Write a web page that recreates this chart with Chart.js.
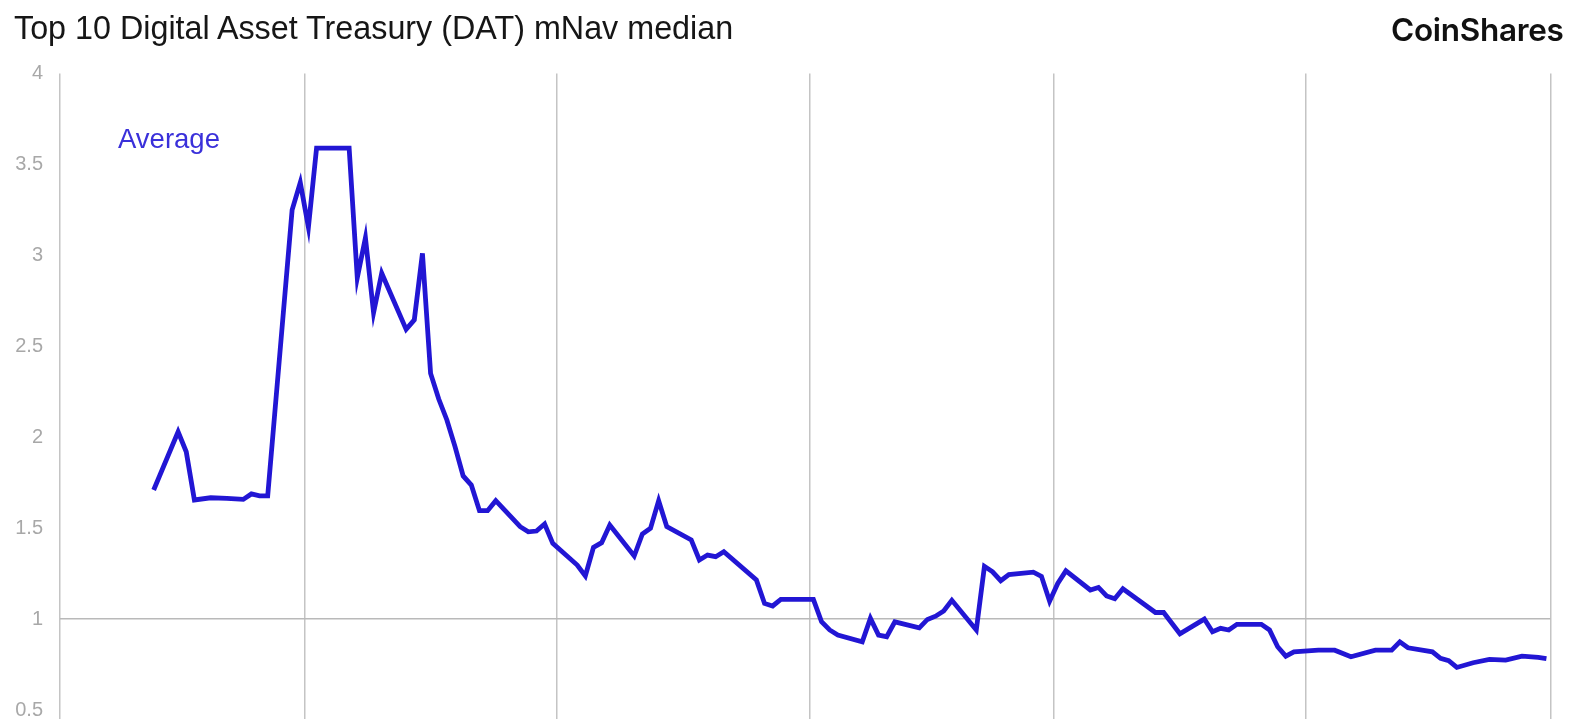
<!DOCTYPE html>
<html>
<head>
<meta charset="utf-8">
<script src="https://cdn.jsdelivr.net/npm/chart.js@4.4.1/dist/chart.umd.min.js"></script>
<style>
  html, body { margin: 0; padding: 0; background: #ffffff; }
  #wrap { position: relative; width: 1596px; height: 719px; overflow: hidden; background: #fff; }
  #chart { position: absolute; left: 0; top: 0; }
  #title { position: absolute; left: 14px; top: 10px; font-family: "Liberation Sans", Arial, sans-serif;
           font-size: 32.3px; color: #161616; white-space: nowrap; }
  #logo { position: absolute; left: 1391px; top: 10px; font-family: Inter, "Liberation Sans", Arial, sans-serif;
          font-size: 31.5px; font-weight: 600; color: #111; white-space: nowrap; letter-spacing: -0.3px; }
  #avg { position: absolute; left: 118px; top: 123px; font-family: "Liberation Sans", Arial, sans-serif;
         font-size: 27.5px; color: #3a30da; white-space: nowrap; }
</style>
</head>
<body>
<div id="wrap">
  <canvas id="chart" width="1596" height="719"></canvas>
  <div id="title">Top 10 Digital Asset Treasury (DAT) mNav median</div>
  <div id="logo">CoinShares</div>
  <div id="avg">Average</div>
</div>
<script>
// ---- Data ----
const seriesName = "Average";
const dates = [
  "2025-06-12","2025-06-15","2025-06-16","2025-06-17","2025-06-19","2025-06-21","2025-06-23","2025-06-24",
  "2025-06-25","2025-06-26","2025-06-29","2025-06-30","2025-07-01","2025-07-02","2025-07-06","2025-07-07",
  "2025-07-08","2025-07-09","2025-07-10","2025-07-13","2025-07-14","2025-07-15","2025-07-16","2025-07-17",
  "2025-07-18","2025-07-19","2025-07-20","2025-07-21","2025-07-22","2025-07-23","2025-07-24","2025-07-27",
  "2025-07-28","2025-07-29","2025-07-30","2025-07-31","2025-08-03","2025-08-04","2025-08-05","2025-08-06",
  "2025-08-07","2025-08-10","2025-08-11","2025-08-12","2025-08-13","2025-08-14","2025-08-17","2025-08-18",
  "2025-08-19","2025-08-20","2025-08-21","2025-08-25","2025-08-26","2025-08-27","2025-08-28","2025-09-01",
  "2025-09-02","2025-09-03","2025-09-04","2025-09-07","2025-09-08","2025-09-09","2025-09-10","2025-09-11",
  "2025-09-14","2025-09-15","2025-09-16","2025-09-17","2025-09-18","2025-09-21","2025-09-22","2025-09-23",
  "2025-09-24","2025-09-25","2025-09-28","2025-09-29","2025-09-30","2025-10-01","2025-10-02","2025-10-05",
  "2025-10-06","2025-10-07","2025-10-08","2025-10-09","2025-10-13","2025-10-14","2025-10-16","2025-10-19",
  "2025-10-20","2025-10-21","2025-10-22","2025-10-23","2025-10-26","2025-10-27","2025-10-28","2025-10-29",
  "2025-10-30","2025-11-02","2025-11-04","2025-11-06","2025-11-09","2025-11-11","2025-11-12","2025-11-13",
  "2025-11-16","2025-11-17","2025-11-18","2025-11-19","2025-11-21","2025-11-23","2025-11-25","2025-11-27",
  "2025-11-29","2025-11-30"
];
const mnavMedian = [
  1.71, 2.03, 1.92, 1.655, 1.667, 1.664, 1.658, 1.688,
  1.677, 1.677, 3.25, 3.40, 3.155, 3.59, 3.59, 2.877,
  3.097, 2.685, 2.902, 2.593, 2.645, 3.011, 2.351, 2.21,
  2.095, 1.948, 1.787, 1.737, 1.596, 1.596, 1.651, 1.508,
  1.480, 1.484, 1.523, 1.416, 1.297, 1.237, 1.394, 1.42,
  1.517, 1.347, 1.468, 1.499, 1.651, 1.508, 1.435, 1.325,
  1.352, 1.343, 1.370, 1.215, 1.086, 1.072, 1.108, 1.108,
  0.985, 0.94, 0.912, 0.875, 1.004, 0.912, 0.903, 0.985,
  0.952, 0.998, 1.016, 1.044, 1.103, 0.94, 1.29, 1.26,
  1.211, 1.245, 1.258, 1.235, 1.098, 1.196, 1.265, 1.16,
  1.174, 1.127, 1.112, 1.167, 1.036, 1.036, 0.919, 1.0,
  0.93, 0.949, 0.940, 0.971, 0.971, 0.940, 0.848, 0.796,
  0.82, 0.829, 0.829, 0.793, 0.829, 0.829, 0.875, 0.842,
  0.820, 0.784, 0.771, 0.734, 0.760, 0.778, 0.774, 0.796,
  0.789, 0.782
];
// Month boundaries used for the vertical grid lines
const monthStarts = ["2025-06-01","2025-07-01","2025-08-01","2025-09-01","2025-10-01","2025-11-01","2025-12-01"];
// Y-axis tick labels
const yTicks = [0.5, 1, 1.5, 2, 2.5, 3, 3.5, 4];
const refLine = 1;

// ---- Build chart ----
const DAY = 86400000;
const origin = Date.parse(monthStarts[0]);
const dayOf = s => (Date.parse(s) - origin) / DAY;
// each observation sits in the middle of its day slot
const points = dates.map((d, i) => ({ x: dayOf(d) + 0.5, y: mnavMedian[i] }));
const gridDays = monthStarts.map(dayOf);

new Chart(document.getElementById('chart'), {
  type: 'line',
  data: {
    datasets: [{
      label: seriesName,
      data: points,
      borderColor: '#2216d4',
      borderWidth: 4.8,
      borderJoinStyle: 'miter',
      pointRadius: 0,
      tension: 0,
      fill: false
    }]
  },
  options: {
    responsive: false,
    animation: false,
    events: [],
    layout: { padding: { top: 73.5, right: 45.5, left: 0, bottom: 0 } },
    plugins: { legend: { display: false }, tooltip: { enabled: false }, title: { display: false } },
    scales: {
      x: {
        type: 'linear',
        min: gridDays[0],
        max: gridDays[gridDays.length - 1],
        afterBuildTicks: s => { s.ticks = gridDays.map(v => ({ value: v })); },
        afterFit: s => { s.height = 9; s.paddingLeft = 0; s.paddingRight = 0; },
        ticks: { display: false },
        border: { display: false },
        grid: { color: '#c4c4c4', lineWidth: 1.5, drawTicks: true, tickLength: 9 }
      },
      y: {
        min: yTicks[0],
        max: yTicks[yTicks.length - 1],
        afterBuildTicks: s => { s.ticks = yTicks.map(v => ({ value: v })); },
        afterFit: s => { s.width = 60; s.paddingTop = 0; s.paddingBottom = 0; },
        border: { display: false },
        grid: {
          drawTicks: false,
          lineWidth: 1.5,
          color: ctx => (ctx.tick && ctx.tick.value === refLine) ? '#b9b9b9' : 'rgba(0,0,0,0)'
        },
        ticks: {
          padding: 17,
          color: '#a8a8a8',
          font: { family: '"Liberation Sans", Arial, sans-serif', size: 20 },
          callback: v => String(v)
        }
      }
    }
  }
});
</script>
</body>
</html>
